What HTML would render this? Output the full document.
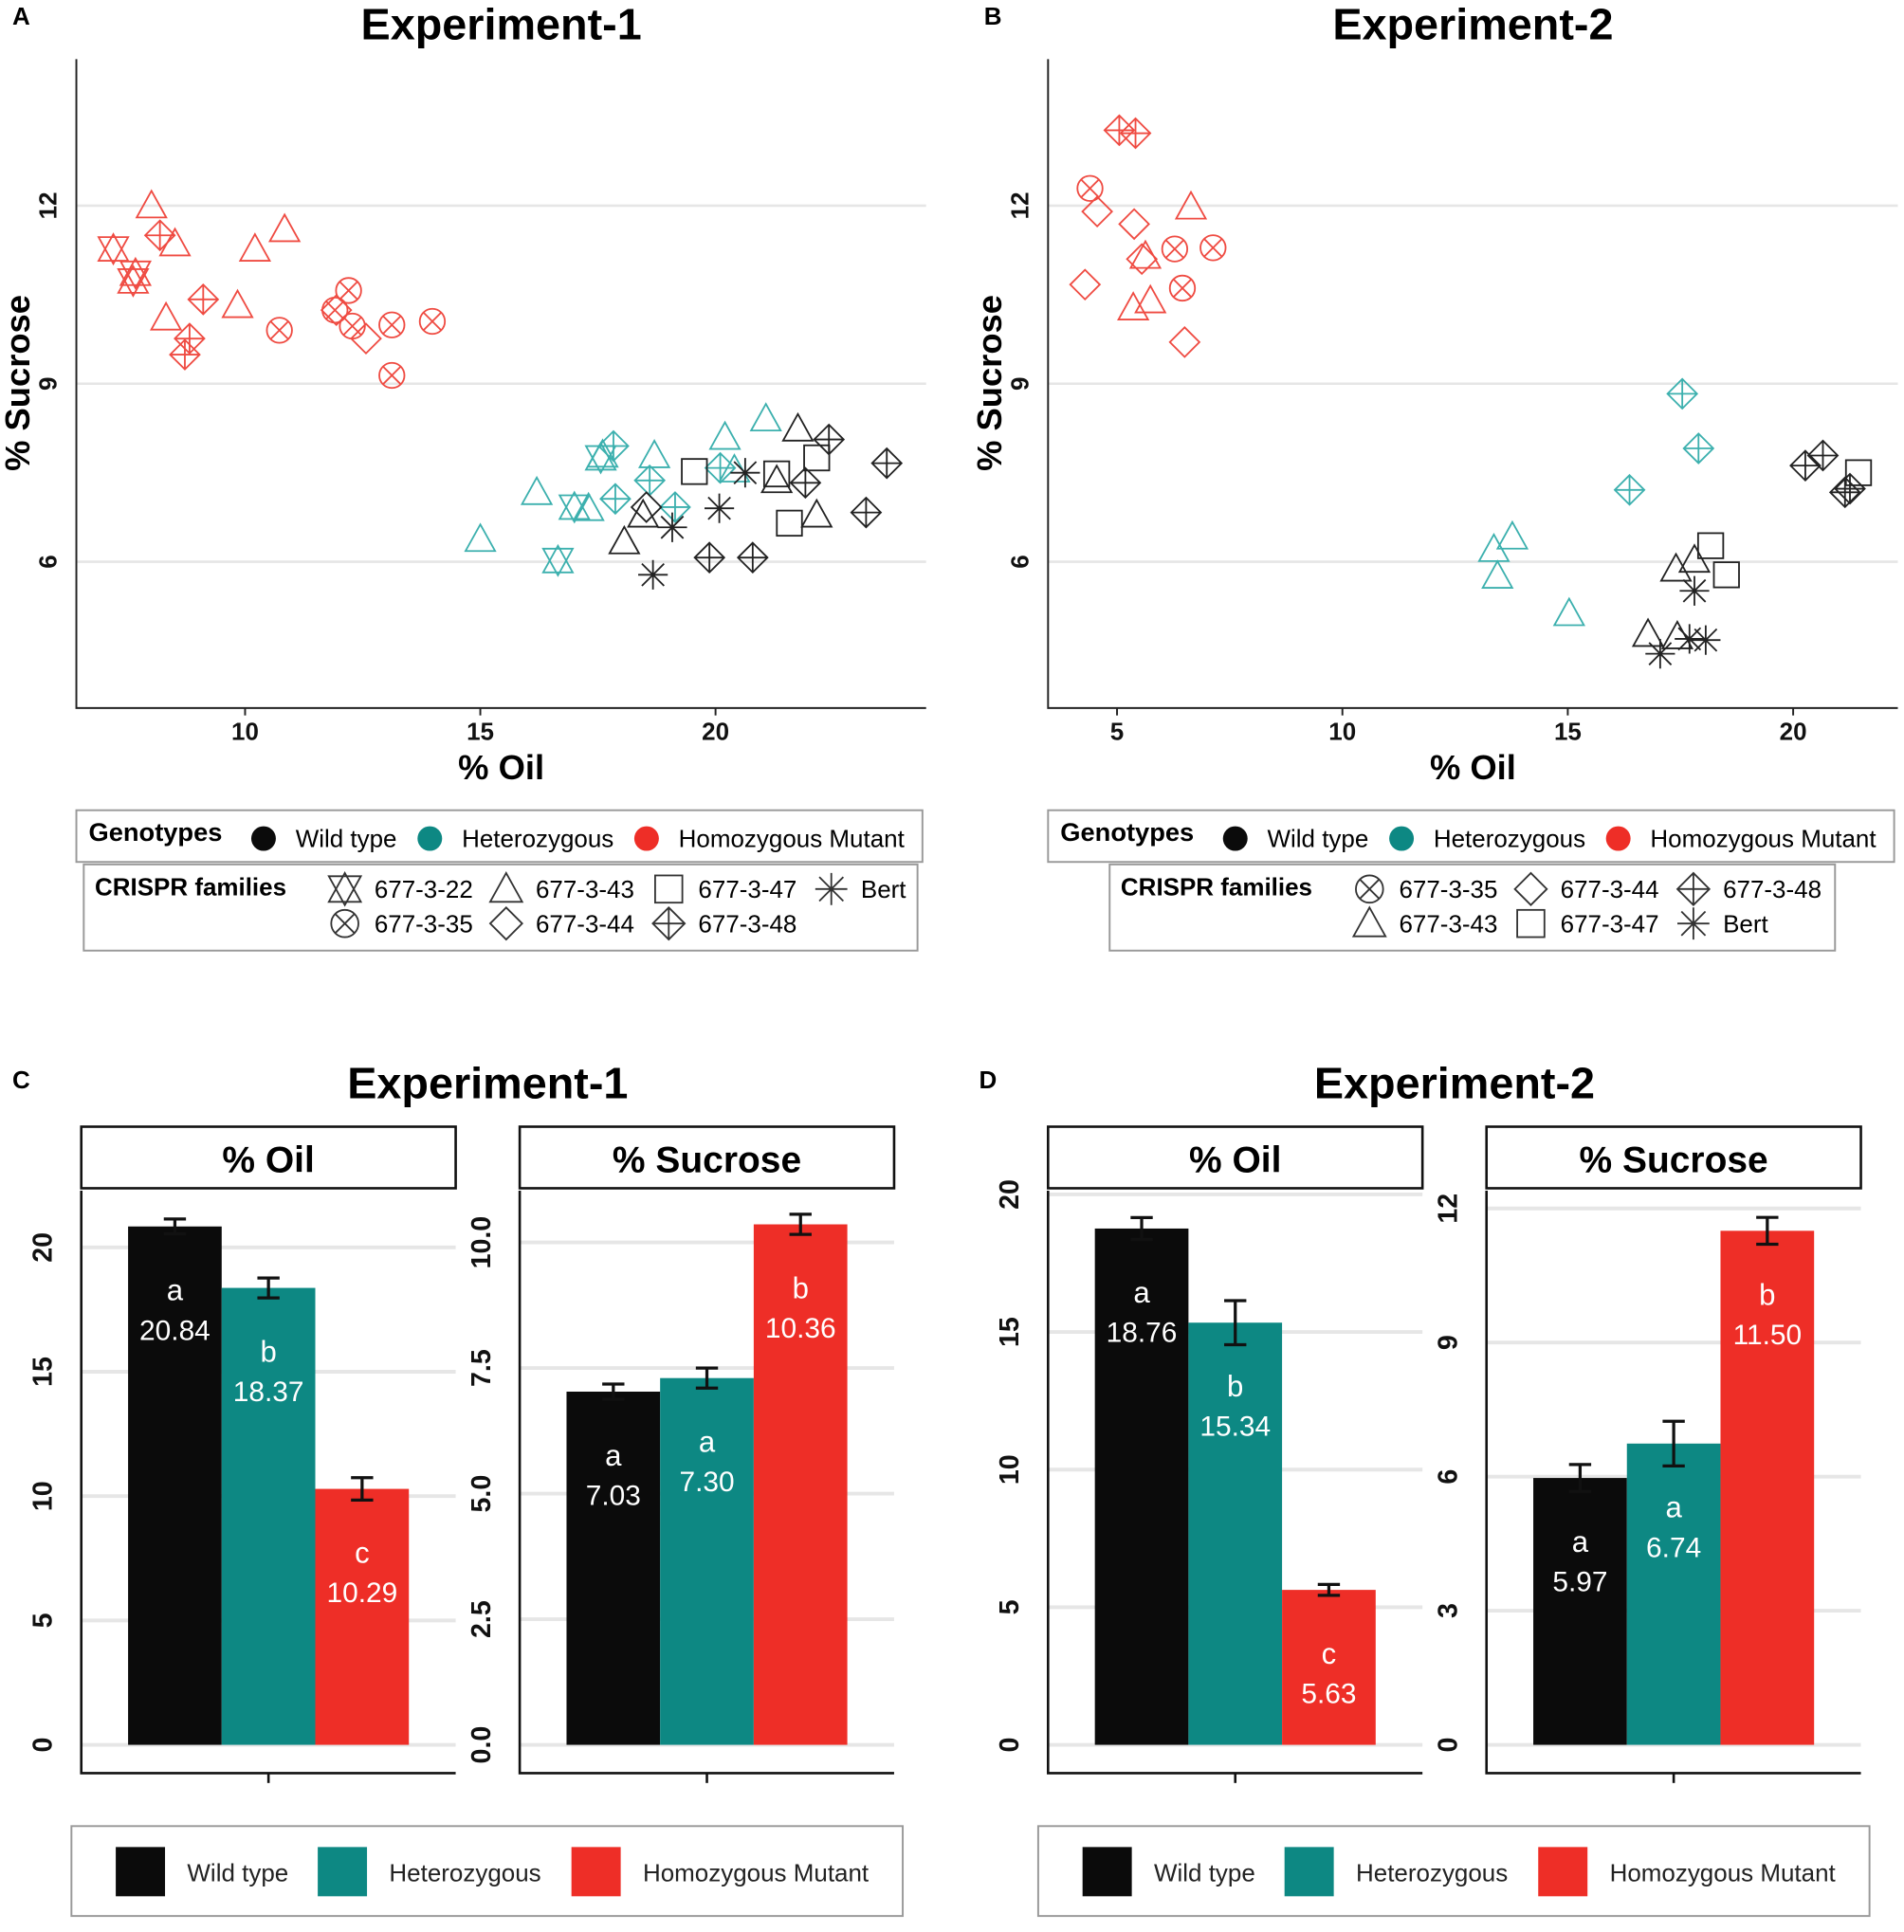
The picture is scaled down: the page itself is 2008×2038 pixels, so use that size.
<!DOCTYPE html>
<html><head><meta charset="utf-8"><style>
html,body{margin:0;padding:0;background:#fff}
svg{display:block}
text{font-family:"Liberation Sans",Arial,sans-serif}
</style></head><body>
<svg id="fig" width="2008" height="2038" viewBox="0 0 1546 1569" preserveAspectRatio="none" xmlns="http://www.w3.org/2000/svg"></svg>
<script>
// ---------- DATA ----------
const aOil=[7.2,7.62,7.67,8.01,8.51,10.21,10.84,8.32,9.84,8.19,9.11,8.82,8.72,10.73,12.2,11.91,12.28,13.12,13.98,13.12,12.57,11.94,
15.0,21.07,20.2,18.7,16.2,17.3,17.6,16.65,17.56,17.0,17.83,17.87,18.6,19.14,20.1,20.4,
19.87,20.79,23.2,23.64,22.41,21.91,21.75,18.06,18.46,22.15,21.3,19.55,21.3,21.57,22.15,18.67,19.08,20.08,20.63,18.53];
const aSuc=[11.27,10.73,10.86,12.0,11.36,11.27,11.6,10.11,10.32,11.5,10.42,9.76,9.49,9.9,10.57,10.24,9.97,9.99,10.05,9.14,9.76,10.24,
6.38,8.41,8.1,7.79,7.17,6.9,7.8,6.02,7.75,6.92,7.95,7.06,7.37,6.92,7.58,7.55,
6.07,6.07,6.83,7.66,8.06,7.33,8.24,6.34,6.79,6.79,7.37,7.52,7.48,6.65,7.75,5.78,6.58,6.9,7.5,6.92];
const aGen=["M","M","M","M","M","M","M","M","M","M","M","M","M","M","M","M","M","M","M","M","M","M",
"H","H","H","H","H","H","H","H","H","H","H","H","H","H","H","H",
"W","W","W","W","W","W","W","W","W","W","W","W","W","W","W","W","W","W","W","W"];
const aFam=["22","22","22","43","43","43","43","43","43","48","48","48","48","35","35","35","35","35","35","35","44","44",
"43","43","43","43","43","43","43","22","22","22","48","48","48","48","48","43",
"48","48","48","48","48","48","43","43","43","43","43","47","47","47","47","B","B","B","B","44"];
const bOil=[5.41,5.05,4.4,6.28,7.13,6.45,4.56,5.38,4.29,6.5,5.55,6.64,5.74,5.63,5.36,
13.77,13.36,13.44,15.03,17.54,17.9,16.37,
20.27,20.66,21.15,21.26,18.17,18.52,21.45,17.4,17.81,16.78,17.43,17.05,18.06,17.81,17.7];
const bSuc=[13.22,13.27,12.29,11.27,11.29,10.61,11.9,11.69,10.67,9.7,11.1,11.98,10.4,11.15,10.28,
6.42,6.21,5.76,5.13,8.83,7.91,7.21,
7.62,7.79,7.17,7.23,6.27,5.78,7.5,5.88,6.03,4.78,4.74,4.45,4.68,5.51,4.7];
const bGen=["M","M","M","M","M","M","M","M","M","M","M","M","M","M","M",
"H","H","H","H","H","H","H","W","W","W","W","W","W","W","W","W","W","W","W","W","W","W"];
const bFam=["48","48","35","35","35","35","44","44","44","44","44","43","43","43","43",
"43","43","43","43","48","48","48","48","48","48","48","47","47","47","43","43","43","43","B","B","B","B"];
const groups=["Wild type","Heterozygous","Homozygous Mutant"];
const letters_c_oil=["a","b","c"], c_oil=[20.84,18.37,10.29], c_oil_se=[0.3,0.4,0.45];
const letters_c_suc=["a","a","b"], c_suc=[7.03,7.30,10.36], c_suc_se=[0.15,0.2,0.2];
const letters_d_oil=["a","b","c"], d_oil=[18.76,15.34,5.63], d_oil_se=[0.4,0.8,0.2];
const letters_d_suc=["a","a","b"], d_suc=[5.97,6.74,11.50], d_suc_se=[0.3,0.5,0.3];
const c_oil_ticks=[0,5,10,15,20], c_suc_ticks=[0,2.5,5,7.5,10], d_oil_ticks=[0,5,10,15,20], d_suc_ticks=[0,3,6,9,12];
const c_suc_tick_labels=["0.0","2.5","5.0","7.5","10.0"];
const scatterXTicksA=[10,15,20], scatterXTicksB=[5,10,15,20], scatterYTicks=[6,9,12];

// ---------- HELPERS ----------
const NS="http://www.w3.org/2000/svg";
const svg=document.getElementById('fig');
function el(tag,attrs,parent,txt){const e=document.createElementNS(NS,tag);for(const k in attrs)e.setAttribute(k,attrs[k]);if(txt!==undefined)e.textContent=txt;(parent||svg).appendChild(e);return e;}
const SC={W:"#222",H:"#3cb0ae",M:"#ef4b42"};
const FC={W:"#0b0b0b",H:"#0d8883",M:"#ee2e27"};
function marker(g,x,y,fam,col,s){
  s=s||12;const st={fill:"none",stroke:col,"stroke-width":1.4};
  const m=el('g',{},g);
  const tri=(d)=>el('polygon',Object.assign({points:`${x},${y-d*s} ${x+s},${y+d*s*0.8} ${x-s},${y+d*s*0.8}`},st),m);
  if(fam==="22"){tri(1);tri(-1);}
  else if(fam==="43"){tri(1);}
  else if(fam==="35"){el('circle',Object.assign({cx:x,cy:y,r:s*0.85},st),m);const d=s*0.6;el('path',Object.assign({d:`M${x-d},${y-d}L${x+d},${y+d}M${x+d},${y-d}L${x-d},${y+d}`},st),m);}
  else if(fam==="44"||fam==="48"){el('polygon',Object.assign({points:`${x},${y-s} ${x+s},${y} ${x},${y+s} ${x-s},${y}`},st),m);if(fam==="48")el('path',Object.assign({d:`M${x},${y-s}V${y+s}M${x-s},${y}H${x+s}`},st),m);}
  else if(fam==="47"){el('rect',Object.assign({x:x-s*0.85,y:y-s*0.85,width:s*1.7,height:s*1.7},st),m);}
  else {const d=s*0.75;el('path',Object.assign({d:`M${x},${y-s}V${y+s}M${x-s},${y}H${x+s}M${x-d},${y-d}L${x+d},${y+d}M${x+d},${y-d}L${x-d},${y+d}`},st),m);}
  return m;
}

// ---------- SCATTER ----------
function scatter(name,cfg){
  const g=el('g',{},svg);
  const X=v=>cfg.x0+(v-cfg.xv0)*cfg.xs, Y=v=>167-(v-12)*48.2;
  scatterYTicks.forEach(t=>{el('line',{x1:cfg.l,x2:cfg.r,y1:Y(t),y2:Y(t),stroke:"#e6e6e6","stroke-width":2},g);
    const tx=el('text',{x:cfg.l-16,y:Y(t),"font-size":20,"font-weight":"bold","text-anchor":"middle",transform:`rotate(-90 ${cfg.l-16} ${Y(t)})`,fill:"#111"},g,String(t));});
  el('path',{d:`M${cfg.l},48V575H${cfg.r}`,fill:"none",stroke:"#222","stroke-width":1.5},g);
  cfg.xt.forEach(t=>{el('line',{x1:X(t),x2:X(t),y1:575,y2:581,stroke:"#222","stroke-width":1.5},g);
    const tx=el('text',{x:X(t),y:601,"font-size":20,"font-weight":"bold","text-anchor":"middle",fill:"#111"},g,String(t));});
  const xt=el('text',{x:(cfg.l+cfg.r)/2,y:633,"font-size":28,"font-weight":"bold","text-anchor":"middle"},g,"% Oil");
  const yt=el('text',{x:cfg.l-38,y:311,"font-size":28,"font-weight":"bold","text-anchor":"middle",transform:`rotate(-90 ${cfg.l-38} 311)`},g,"% Sucrose");
  const tt=el('text',{x:(cfg.l+cfg.r)/2,y:32,"font-size":36,"font-weight":"bold","text-anchor":"middle"},g,cfg.title);
  const pl=el('text',{x:cfg.l-52,y:20,"font-size":20,"font-weight":"bold"},g,cfg.letter);
  for(let i=0;i<cfg.oil.length;i++){const m=marker(g,X(cfg.oil[i]),Y(cfg.suc[i]),cfg.fam[i],SC[cfg.gen[i]]);
    
    }
  const lg=el('g',{},g);
  el('rect',{x:cfg.l,y:658,width:687,height:42,fill:"#fff",stroke:"#999","stroke-width":1.5},lg);
  el('text',{x:cfg.l+10,y:683,"font-size":21,"font-weight":"bold"},lg,"Genotypes");
  [["W","Wild type",152],["H","Heterozygous",287],["M","Homozygous Mutant",463]].forEach(a=>{el('circle',{cx:cfg.l+a[2],cy:681,r:10,fill:FC[a[0]]},lg);el('text',{x:cfg.l+a[2]+26,y:688,"font-size":20},lg,a[1]);});
  const lf=el('g',{},g);
  el('rect',{x:cfg.fx,y:702,width:cfg.fw,height:70,fill:"#fff",stroke:"#999","stroke-width":1.5},lf);
  el('text',{x:cfg.fx+9,y:727,"font-size":20,"font-weight":"bold"},lf,"CRISPR families");
  cfg.fams.forEach(f=>{marker(lf,f[0],f[1],f[2],"#333",13);el('text',{x:f[0]+24,y:f[1]+7,"font-size":20},lf,f[3]);});
}
scatter('scatter-experiment-1',{l:62,r:752,x0:199,xv0:10,xs:38.2,xt:scatterXTicksA,title:"Experiment-1",letter:"A",
  oil:aOil,suc:aSuc,gen:aGen,fam:aFam,fx:68,fw:677,
  fams:[[280,722,"22","677-3-22"],[411,722,"43","677-3-43"],[543,722,"47","677-3-47"],[675,722,"B","Bert"],
        [280,750,"35","677-3-35"],[411,750,"44","677-3-44"],[543,750,"48","677-3-48"]]});
scatter('scatter-experiment-2',{l:851,r:1541,x0:907,xv0:5,xs:36.6,xt:scatterXTicksB,title:"Experiment-2",letter:"B",
  oil:bOil,suc:bSuc,gen:bGen,fam:bFam,fx:901,fw:589,
  fams:[[1112,722,"35","677-3-35"],[1243,722,"44","677-3-44"],[1375,722,"48","677-3-48"],
        [1112,750,"43","677-3-43"],[1243,750,"47","677-3-47"],[1375,750,"B","Bert"]]});

// ---------- BARS ----------
function barPanel(g,name,l,r,ys,ticks,tlabels,vals,se,letters,header){
  const p=el('g',{},g);
  const Y=v=>1417-v*ys;
  el('rect',{x:l,y:915,width:r-l,height:50,fill:"#fff",stroke:"#111","stroke-width":2},p);
  el('text',{x:(l+r)/2,y:952,"font-size":30,"font-weight":"bold","text-anchor":"middle"},p,header);
  ticks.forEach((t,i)=>{el('line',{x1:l,x2:r,y1:Y(t),y2:Y(t),stroke:"#e6e6e6","stroke-width":3},p);
    const lab=tlabels?tlabels[i]:String(t);
    const tx=el('text',{x:l-24,y:Y(t),"font-size":22,"font-weight":"bold","text-anchor":"middle",transform:`rotate(-90 ${l-24} ${Y(t)})`,fill:"#111"},p,lab);
    });
  el('path',{d:`M${l},967V1440H${r}`,fill:"none",stroke:"#111","stroke-width":2},p);
  el('line',{x1:(l+r)/2,x2:(l+r)/2,y1:1440,y2:1448,stroke:"#111","stroke-width":2},p);
  const bx=l+38,bw=76;
  vals.forEach((v,i)=>{const x=bx+i*bw;const gen=["W","H","M"][i];
    const b=el('rect',{x:x,y:Y(v),width:bw,height:Y(0)-Y(v),fill:FC[gen]},p);
    
    
    const cx=x+bw/2,y1=Y(v+se[i]),y2=Y(v-se[i]);
    el('path',{d:`M${cx-9},${y1}H${cx+9}M${cx},${y1}V${y2}M${cx-9},${y2}H${cx+9}`,stroke:"#111","stroke-width":2.5,fill:"none"},p);
    el('text',{x:cx,y:Y(v)+60,"font-size":24,fill:"#fff","text-anchor":"middle"},p,letters[i]);
    el('text',{x:cx,y:Y(v)+92,"font-size":23,fill:"#fff","text-anchor":"middle"},p,v.toFixed(2));
  });
}
function barFigure(name,x0,title,letter,oil,oilse,ol,ot,oys,suc,sucse,sl,st,sys,stl){
  const g=el('g',{},svg);
  const pl=el('text',{x:x0-56,y:884,"font-size":20,"font-weight":"bold"},g,letter);
  const tt=el('text',{x:x0+330,y:892,"font-size":36,"font-weight":"bold","text-anchor":"middle"},g,title);
  barPanel(g,'oil-panel',x0,x0+304,oys,ot,null,oil,oilse,ol,"% Oil");
  barPanel(g,'sucrose-panel',x0+356,x0+660,sys,st,stl,suc,sucse,sl,"% Sucrose");
  const lg=el('g',{},g);
  el('rect',{x:x0-8,y:1483,width:675,height:73,fill:"#fff",stroke:"#999","stroke-width":1.5},lg);
  [[28,0],[192,1],[398,2]].forEach(a=>{el('rect',{x:x0+a[0],y:1500,width:40,height:40,fill:FC[["W","H","M"][a[1]]]},lg);el('text',{x:x0+a[0]+58,y:1528,"font-size":20,fill:"#222"},lg,groups[a[1]]);});
}
barFigure('bar-chart-experiment-1',66,"Experiment-1","C",c_oil,c_oil_se,letters_c_oil,c_oil_ticks,20.2,c_suc,c_suc_se,letters_c_suc,c_suc_ticks,40.8,c_suc_tick_labels);
barFigure('bar-chart-experiment-2',851,"Experiment-2","D",d_oil,d_oil_se,letters_d_oil,d_oil_ticks,22.35,d_suc,d_suc_se,letters_d_suc,d_suc_ticks,36.3,null);
</script>
</body></html>
